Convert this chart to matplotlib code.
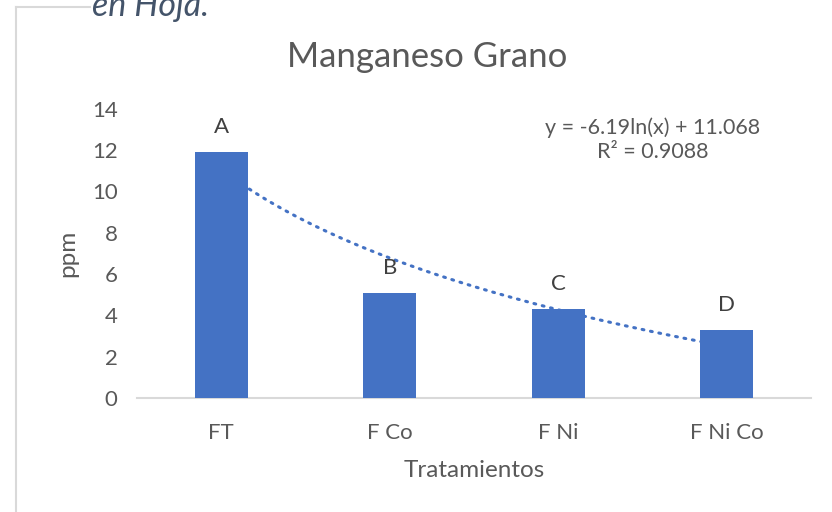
import matplotlib
matplotlib.use("Agg")
import matplotlib.pyplot as plt
import numpy as np

plt.rcParams['font.family'] = ['Lato', 'DejaVu Sans']

# Manganeso en grano por tratamiento (ppm)
tratamientos = ["FT", "F Co", "F Ni", "F Ni Co"]
mn_ppm = [11.9, 5.1, 4.3, 3.3]
letras = ["A", "B", "C", "D"]

# tendencia logarítmica: y = a*ln(x) + b
coef_a = -6.19
coef_b = 11.068
r2 = 0.9088

BLUE = "#4472C4"
GREY = "#595959"
LINE = "#D9D9D9"

fig = plt.figure(figsize=(8.32, 5.12), dpi=100)
ax = fig.add_axes([0.1647, 0.2227, 0.8103, 0.5646])

x = np.arange(1, len(tratamientos) + 1)
bars = ax.bar(x, mn_ppm, width=0.315, color=BLUE, zorder=3)

xs = np.linspace(1, len(tratamientos), 200)
ax.plot(xs, coef_a * np.log(xs) + coef_b, color=BLUE, lw=2.2,
        linestyle=(0, (0.6, 2.2)), dash_capstyle='round', zorder=2)

for xi, yi, lt in zip(x, mn_ppm, letras):
    ax.annotate(lt, (xi, yi), xytext=(0, 18), textcoords='offset points',
                ha='center', va='center', fontsize=16, color="#404040")

ax.text(0.765, 0.895, "y = %.2fln(x) + %.3f\nR² = %.4f" % (coef_a, coef_b, r2),
        transform=ax.transAxes, ha='center', va='center',
        fontsize=15.5, color=GREY, linespacing=1.25)

ax.set_xlim(0.5, len(tratamientos) + 0.5)
ax.set_ylim(0, 14)
ax.set_yticks(range(0, 15, 2))
ax.set_xticks(x)
ax.set_xticklabels(tratamientos)
ax.tick_params(length=0, labelsize=16, labelcolor=GREY)
ax.tick_params(axis='x', pad=18)
ax.tick_params(axis='y', pad=14)

for s in ["top", "right", "left"]:
    ax.spines[s].set_visible(False)
ax.spines["bottom"].set_color(LINE)
ax.spines["bottom"].set_linewidth(1.5)

ax.set_xlabel("Tratamientos", fontsize=17.5, color=GREY, labelpad=12)
ax.set_ylabel("ppm", fontsize=17.5, color=GREY, labelpad=10)

fig.text(0.513, 0.889, "Manganeso Grano", ha='center', va='center',
         fontsize=25, color=GREY)

# borde del gráfico y texto cortado arriba
fig.add_artist(plt.Line2D([16 / 832, 16 / 832], [0, 1 - 7 / 512],
                          color=LINE, lw=1.5))
fig.add_artist(plt.Line2D([16 / 832, 90 / 832], [1 - 7 / 512, 1 - 7 / 512],
                          color=LINE, lw=1.5))
fig.text(92 / 832, 1 - 16 / 512, "en Hoja.", ha='left', va='baseline',
         fontsize=24.5, style='italic', color="#44546A")

fig.savefig("out.png", dpi=100)
